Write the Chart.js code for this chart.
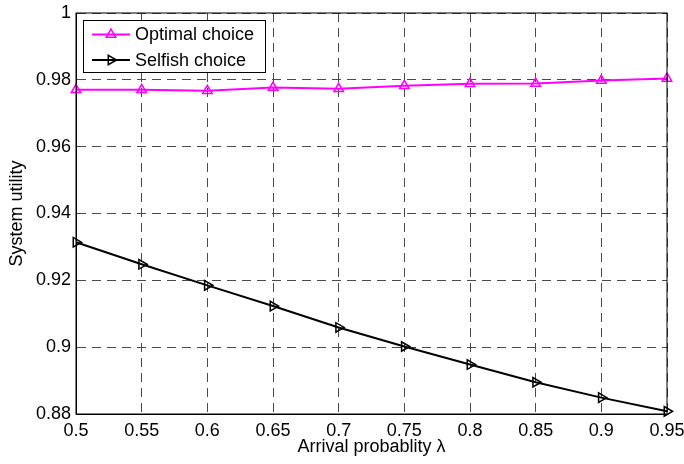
<!DOCTYPE html>
<html>
<head>
<meta charset="utf-8">
<script src="https://cdn.jsdelivr.net/npm/chart.js@4/dist/chart.umd.min.js"></script>
<style>
  html, body { margin: 0; padding: 0; background: #fff; }
  #wrap { width: 684px; height: 464px; }
</style>
</head>
<body>
<div id="wrap"><canvas id="myChart" width="684" height="464"></canvas></div>
<script>
// arrival probability on the x axis
const lambda = [0.5, 0.55, 0.6, 0.65, 0.7, 0.75, 0.8, 0.85, 0.9, 0.95];
const optimal = [0.9770, 0.9770, 0.9767, 0.9777, 0.9773, 0.9782, 0.9788, 0.9789, 0.9798, 0.9804];
const selfish = [0.9314, 0.9248, 0.9185, 0.9123, 0.9059, 0.9002, 0.8948, 0.8895, 0.8849, 0.8808];

const xTicks = [0.5, 0.55, 0.6, 0.65, 0.7, 0.75, 0.8, 0.85, 0.9, 0.95];
const xTickLabels = ['0.5', '0.55', '0.6', '0.65', '0.7', '0.75', '0.8', '0.85', '0.9', '0.95'];
const yTicks = [0.88, 0.9, 0.92, 0.94, 0.96, 0.98, 1];
const yTickLabels = ['0.88', '0.9', '0.92', '0.94', '0.96', '0.98', '1'];

const FONT = '"Liberation Sans", Arial, sans-serif';
const gridColor = '#4a4a4a';

// frame around the plot + legend box in the upper left corner
const frameAndLegend = {
  id: 'frameAndLegend',
  afterDatasetsDraw(chart) {
    const {ctx, chartArea: a} = chart;
    ctx.save();
    ctx.strokeStyle = '#000';
    ctx.lineWidth = 1;
    ctx.setLineDash([]);
    ctx.strokeRect(a.left, a.top, a.right - a.left, a.bottom - a.top);

    // legend
    const bx = 83.5, by = 20.5, bw = 182, bh = 52;
    ctx.fillStyle = '#fff';
    ctx.fillRect(bx, by, bw, bh);
    ctx.strokeRect(bx, by, bw, bh);
    const rows = [34.5, 60];
    chart.data.datasets.forEach((ds, i) => {
      const y = rows[i];
      ctx.strokeStyle = ds.borderColor;
      ctx.lineWidth = 2;
      ctx.beginPath();
      ctx.moveTo(92, y);
      ctx.lineTo(130, y);
      ctx.stroke();
      ctx.fillStyle = 'rgba(0,0,0,0)';
      ctx.lineWidth = ds.pointBorderWidth;
      Chart.helpers.drawPoint(ctx, {
        pointStyle: 'triangle',
        rotation: ds.pointRotation,
        radius: ds.pointRadius,
        borderWidth: ds.pointBorderWidth
      }, 111, y);
      ctx.fillStyle = '#000';
      ctx.font = '18px ' + FONT;
      ctx.textBaseline = 'middle';
      ctx.textAlign = 'left';
      ctx.fillText(ds.label, 135, y + 1);
    });
    ctx.restore();
  }
};

const ctx = document.getElementById('myChart').getContext('2d');
const myChart = new Chart(ctx, {
  type: 'line',
  data: {
    datasets: [
      {
        label: 'Optimal choice',
        data: lambda.map((x, i) => ({x: x, y: optimal[i]})),
        borderColor: '#ff00ff',
        borderWidth: 2,
        pointStyle: 'triangle',
        pointRadius: 5.5,
        pointRotation: 0,
        pointBorderWidth: 1.5,
        pointBorderColor: '#ff00ff',
        pointBackgroundColor: 'rgba(0,0,0,0)',
        fill: false,
        tension: 0
      },
      {
        label: 'Selfish choice',
        data: lambda.map((x, i) => ({x: x, y: selfish[i]})),
        borderColor: '#000000',
        borderWidth: 2,
        pointStyle: 'triangle',
        pointRadius: 5.5,
        pointRotation: 90,
        pointBorderWidth: 1.5,
        pointBorderColor: '#000000',
        pointBackgroundColor: 'rgba(0,0,0,0)',
        fill: false,
        tension: 0
      }
    ]
  },
  options: {
    responsive: false,
    animation: false,
    clip: false,
    layout: { padding: { left: 0, right: 17, top: 13, bottom: 0 } },
    plugins: {
      legend: { display: false },
      tooltip: { enabled: false }
    },
    scales: {
      x: {
        type: 'linear',
        min: 0.5,
        max: 0.95,
        afterBuildTicks: s => { s.ticks = xTicks.map(v => ({value: v})); },
        afterFit: s => { s.height = 50; s.paddingLeft = 0; s.paddingRight = 0; },
        ticks: {
          color: '#000',
          font: { family: FONT, size: 18 },
          padding: 6,
          maxRotation: 0,
          autoSkip: false,
          callback: (v, i) => xTickLabels[i]
        },
        grid: { color: gridColor, lineWidth: 1, drawTicks: false },
        border: { display: true, color: '#000', dash: [9, 6] },
        title: {
          display: true,
          text: 'Arrival probablity λ',
          color: '#000',
          font: { family: FONT, size: 18 },
          padding: { top: 0, bottom: 6 }
        }
      },
      y: {
        min: 0.88,
        max: 1,
        afterBuildTicks: s => { s.ticks = yTicks.map(v => ({value: v})); },
        afterFit: s => { s.width = 76; s.paddingTop = 0; s.paddingBottom = 0; },
        ticks: {
          color: '#000',
          font: { family: FONT, size: 18 },
          padding: 5,
          autoSkip: false,
          callback: (v, i) => yTickLabels[i]
        },
        grid: { color: gridColor, lineWidth: 1, drawTicks: false },
        border: { display: true, color: '#000', dash: [9, 6] },
        title: {
          display: true,
          text: 'System utility',
          color: '#000',
          font: { family: FONT, size: 18 },
          padding: { top: 6, bottom: 0 }
        }
      }
    }
  },
  plugins: [frameAndLegend]
});
</script>
</body>
</html>
